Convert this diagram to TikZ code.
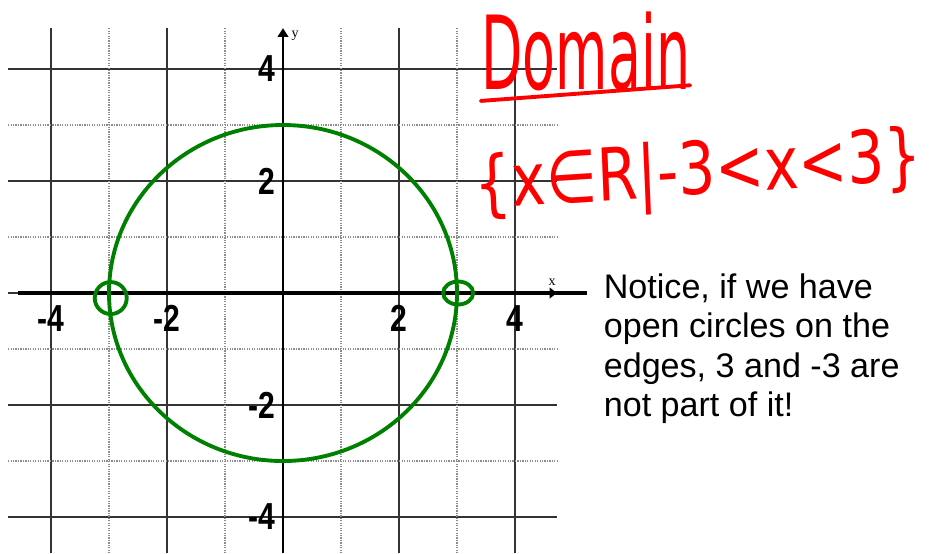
\documentclass[tikz,border=0pt]{standalone}
\usepackage{fontspec}
\setmainfont{Liberation Sans}
\newfontfamily\tickfont[FakeStretch=0.8]{Liberation Sans}
\newfontfamily\axisnamefont{Liberation Serif}
\newfontfamily\handfont{DejaVu Sans}
\usetikzlibrary{arrows.meta,shapes.geometric}
\definecolor{gridgray}{HTML}{333333}
\definecolor{dotgray}{HTML}{8C8C8C}
\definecolor{curvegreen}{HTML}{008000}
\definecolor{inkred}{HTML}{FF0000}

\begin{document}
\begin{tikzpicture}[x=0.58cm,y=0.56cm,
  major/.style={gridgray,line width=0.35pt},
  minor/.style={dotgray,line width=0.4pt,dash pattern=on 0.35pt off 0.35pt},
  tick/.style={font=\tickfont\bfseries\fontsize{10.7pt}{12pt}\selectfont,inner sep=0pt},
  axisname/.style={font=\axisnamefont\fontsize{4pt}{5pt}\selectfont,inner sep=0pt},
  hole/.style={draw=curvegreen,line width=1.1pt,ellipse,inner sep=0pt},
  ink/.style={inkred,font=\handfont\fontsize{15.3pt}{18pt}\selectfont,inner sep=0pt}]
\useasboundingbox (-2.83cm,-2.60cm) rectangle (6.47cm,2.93cm);

% grid
\foreach \k in {-4,-2,2,4} {
  \draw[major] (\k,-4.65) -- (\k,4.73);
  \draw[major] (-4.74,\k) -- (4.72,\k);
}
\foreach \k in {-3,-1,1,3} {
  \draw[minor] (\k,-4.65) -- (\k,4.73);
  \draw[minor] (-4.74,\k) -- (4.72,\k);
}
\draw[major] (-4.74,0) -- (-4.5,0);

% axes
\draw[line width=1pt,-{Triangle[width=3pt,length=2pt]}] (-4.57,0) -- (4.72,0);
\draw[line width=1pt] (4.6,0) -- (5.24,0);
\draw[line width=0.6pt,-{Triangle[width=3pt,length=2.5pt]}] (0,-4.65) -- (0,4.73);
\node[axisname] (xname) at (4.64,0.2) {x};
\node[axisname] (yname) at (0.21,4.59) {y};

% tick labels
\foreach \k/\t in {-4/-4,-2/-2,2/2,4/4} {
  \node[tick,anchor=north] (xl\k) at (\k,-0.21) {\t};
  \node[tick,anchor=east] (yl\k) at (-0.12,\k) {\t};
}

% circle and open ends
\draw[curvegreen,line width=1.1pt] (0,0) circle [radius=3];
\node[hole,minimum width=0.32cm,minimum height=0.32cm] (lhole) at (-2.97,-0.09) {};
\node[hole,minimum width=0.30cm,minimum height=0.23cm] (rhole) at (3.02,0) {};

% domain
\node[ink,yscale=1.9] (domain) at (5.22,4.32) {Domain};
\coordinate (ulA) at (3.41,3.43);
\coordinate (ulB) at (7.02,3.71);
\draw[inkred,line width=1.1pt,line cap=round] (ulA) -- (ulB);
\node[ink,font=\handfont\fontsize{16.6pt}{20pt}\selectfont,yscale=1.25,rotate=3] (domset) at (7.16,2.1) {\{x∈R|-3<x<3\}};

% note
\node[anchor=north west,inner sep=0pt,align=left,font=\fontsize{9.7pt}{11.24pt}\selectfont] (note) at (5.52,0.36)
  {Notice, if we have\\open circles on the\\edges, 3 and -3 are\\not part of it!};
\end{tikzpicture}
\end{document}
